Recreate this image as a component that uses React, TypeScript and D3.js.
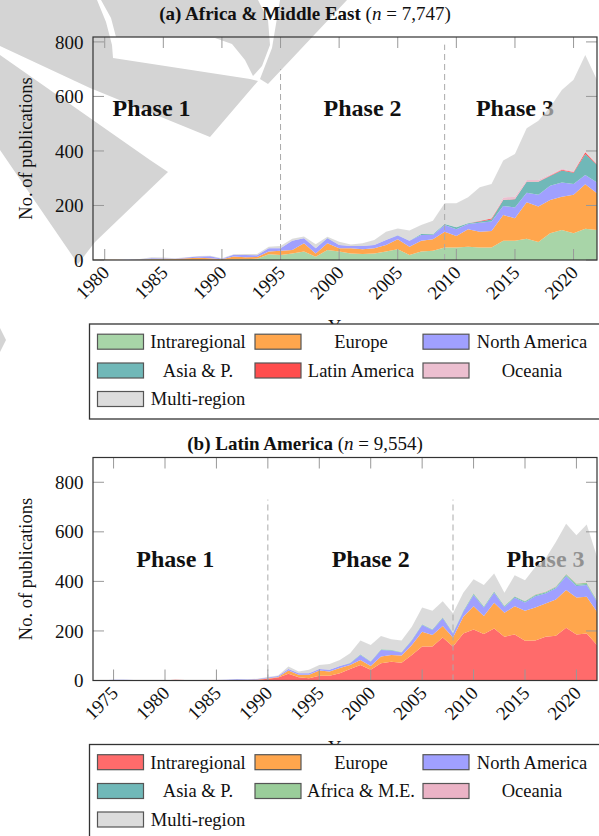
import * as d3 from "d3";

const FONT = "'Liberation Serif', 'Times New Roman', Times, serif";

// ---------- (a) Africa & Middle East, 1979-2022 ----------
const yearsA = d3.range(1979, 2023);
const intraA = [0,0,0,0,1,2,2,1,1,1,1,1,3,3,5, 21,18,24,31,12,37,31,24,22,24,31,39,18,31,34, 46,46,49,46,46,71,71,78,66,98,110,98,115,110];
const europeA = [1,1,1,0,1,2,3,3,5,7,5,2,10,7,6, 10,16,13,30,12,24,12,19,17,19,24,37,31,40,42, 58,42,64,58,60,94,82,134,130,122,122,141,163,135];
const naA = [0,0,0,1,1,2,1,1,3,5,8,2,6,8,6, 12,9,34,19,19,19,12,8,12,12,18,14,22,21,16, 24,25,19,33,35,33,40,35,43,52,52,40,34,39];
const asiaA = [0,0,0,0,0,0,0,0,0,0,0,0,0,0,0, 0,0,0,0,0,1,0,0,0,0,0,1,0,3,2, 4,7,3,4,8,22,30,40,48,36,44,41,77,65];
const latamA = [0,0,0,0,0,0,0,0,0,0,0,0,0,0,0, 0,0,0,0,0,0,0,0,0,0,0,0,0,0,0, 0,0,0,2,3,1,1,1,1,2,3,3,6,2];
const oceaniaA = [0,0,0,0,0,0,0,0,0,0,0,0,0,0,0, 0,0,0,0,0,0,0,0,0,0,0,0,0,0,0, 0,0,0,0,0,8,8,5,5,4,4,3,3,3];
const multiA = [0,1,0,0,1,4,3,1,1,2,2,1,2,4,5, 6,8,7,6,15,4,12,6,10,18,31,25,37,33,50, 76,88,95,124,127,136,157,190,218,246,289,335,354,306];
const labelsA = ["Intraregional", "Europe", "North America", "Asia & P.", "Latin America", "Oceania", "Multi-region"];
const colorsA = ["#a8d5a8", "#ffa64d", "#a0a0ff", "#70b8b8", "#ff4d4d", "#ecbfd0", "#dcdcdc"];
const ticksA = [1980, 1985, 1990, 1995, 2000, 2005, 2010, 2015, 2020];
const phaseYearsA = [1984, 2002, 2015];
const dashYearsA = [1995, 2009];
const dashTopsA = [700, 790];

// ---------- (b) Latin America, 1973-2022 ----------
const yearsB = d3.range(1973, 2023);
const intraB = [0,0,1,1,1,1,1,1,3,2,1,1,1,2,2,2,3,7,12,27,13, 9,19,19,29,46,63,43,70,76,72,103,137,137,174,137,190,206,188,210,177,186,160,161,177,181,213,186,190,143];
const europeB = [0,0,0,0,0,0,0,0,0,0,0,0,0,0,0,0,1,2,2,13,10, 14,21,17,21,17,20,16,27,27,29,40,60,47,46,37,67,94,72,104,96,114,121,134,134,146,152,149,148,134];
const naB = [0,1,2,2,1,0,0,0,0,0,0,1,1,1,3,2,2,3,4,6,6, 6,6,7,9,7,20,17,26,18,12,18,27,20,31,16,20,45,35,40,24,34,34,45,40,45,56,46,47,41];
const asiaB = [0,0,0,0,0,0,0,0,0,0,0,0,0,0,0,0,0,0,0,0,0, 0,0,0,0,1,2,1,2,2,1,2,2,2,3,2,3,4,3,4,3,4,4,4,4,4,5,5,4,3];
const africaB = [0,0,0,0,0,0,0,0,0,0,0,0,0,0,0,0,0,0,0,0,0, 0,0,0,0,1,1,1,1,1,1,1,1,1,1,1,2,3,2,2,2,2,2,3,3,3,4,5,6,3];
const oceaniaB = [0,0,0,0,0,0,0,0,0,0,0,0,0,0,0,0,0,0,0,0,0, 0,0,0,0,0,0,0,0,0,0,0,0,0,1,0,0,1,0,1,0,1,1,2,2,2,2,2,2,1];
const multiB = [0,0,0,0,0,0,0,0,0,0,0,0,0,0,1,1,1,2,2,10,7, 14,17,24,24,38,55,65,54,42,46,53,68,74,64,78,72,56,85,71,52,84,83,109,132,178,201,193,233,174];
const labelsB = ["Intraregional", "Europe", "North America", "Asia & P.", "Africa & M.E.", "Oceania", "Multi-region"];
const colorsB = ["#ff6b6b", "#ffa64d", "#a0a0ff", "#70b8b8", "#9acd9a", "#ebb3c6", "#dcdcdc"];
const ticksB = [1975, 1980, 1985, 1990, 1995, 2000, 2005, 2010, 2015, 2020];
const phaseYearsB = [1981, 2000, 2017];
const dashYearsB = [1990, 2008];
const dashTopsB = [730, 730];

const yTicks = [0, 200, 400, 600, 800];
const phaseNames = ["Phase 1", "Phase 2", "Phase 3"];

// background watermark shapes (light grey)
const watermark = [
  [[0,0],[97,0],[106,22],[112,45],[113,58],[250,79],[258,81],[210,137],[90,88],[0,46]],
  [[101,0],[258,0],[268,20],[270,45],[262,66],[253,76],[245,60],[232,44],[215,38],[116,37],[111,18]],
  [[280,0],[347,0],[268,84],[260,79],[272,48]],
  [[0,55],[150,160],[168,172],[95,242],[78,264],[0,150]],
  [[0,328],[6,340],[0,352]],
];

type PanelProps = {
  oy: number;
  titleY: number;
  title: string;
  n: string;
  years: number[];
  series: number[][];
  labels: string[];
  colors: string[];
  yMax: number;
  xTicks: number[];
  phaseYears: number[];
  phaseValue: number;
  dashYears: number[];
  dashTops: number[];
};

function Panel(p: PanelProps) {
  const left = 93, right = 597;
  const top = p.oy + 37, bottom = p.oy + 260;
  const x = d3.scaleLinear().domain([p.years[0], p.years[p.years.length - 1]]).range([left, right]);
  const y = d3.scaleLinear().domain([0, p.yMax]).range([bottom, top]);

  const rows = p.years.map((_, i) => p.series.map(s => s[i]));
  const stacked = d3.stack<number[], number>()
    .keys(d3.range(p.series.length))
    .value((r, k) => r[k])(rows);
  const area = d3.area<d3.SeriesPoint<number[]>>()
    .x((d, i) => x(p.years[i]))
    .y0(d => y(d[0]))
    .y1(d => y(d[1]));

  const tickLen = 11;
  const last = p.series.length - 1;

  // legend layout
  const lgTop = p.oy + 324;
  const swX = [97.5, 255, 423];
  const txX = [198, 361, 532];
  const rowY = [341.7, 370.5, 399];

  return (
    <g>
      {/* phase labels sit under the areas */}
      {p.phaseYears.map((yr, i) => (
        <text key={"ph" + i} x={x(yr)} y={y(p.phaseValue)} textAnchor="middle"
              fontFamily={FONT} fontWeight="bold" fontSize={24} fill="#111">
          {phaseNames[i]}
        </text>
      ))}

      {stacked.map((s, i) => (
        <path key={"a" + i} d={area(s) || ""}
              fill={i === last ? "#cbcbcb" : p.colors[i]}
              fillOpacity={i === last ? 0.69 : 1} />
      ))}

      {p.dashYears.map((yr, i) => (
        <line key={"d" + i} x1={x(yr)} x2={x(yr)} y1={y(0)} y2={y(p.dashTops[i])}
              stroke="#aaa" strokeWidth={1} strokeDasharray="6,4" />
      ))}

      {/* ticks inside on all four sides */}
      {p.xTicks.map(t => (
        <g key={"xt" + t} stroke="#999" strokeWidth={1}>
          <line x1={x(t)} x2={x(t)} y1={bottom} y2={bottom - tickLen} />
          <line x1={x(t)} x2={x(t)} y1={top} y2={top + tickLen} />
        </g>
      ))}
      {yTicks.map(t => (
        <g key={"yt" + t} stroke="#999" strokeWidth={1}>
          <line x1={left} x2={left + tickLen} y1={y(t)} y2={y(t)} />
          <line x1={right} x2={right - tickLen} y1={y(t)} y2={y(t)} />
        </g>
      ))}
      <rect x={left} y={top} width={right - left} height={bottom - top}
            fill="none" stroke="#333" strokeWidth={1.2} />

      {yTicks.map(t => (
        <text key={"yl" + t} x={83.5} y={y(t)} dy="0.35em" textAnchor="end"
              fontFamily={FONT} fontSize={19} fill="#111">{t}</text>
      ))}
      {p.xTicks.map(t => (
        <text key={"xl" + t} transform={`translate(${x(t) + 1},${bottom + 9}) rotate(-45)`}
              dy="0.35em" textAnchor="end" fontFamily={FONT} fontSize={19} fill="#111">{t}</text>
      ))}

      <text x={305} y={p.titleY} textAnchor="middle" fontFamily={FONT} fontSize={19} fill="#111">
        <tspan fontWeight="bold">{p.title}</tspan>
        <tspan> (</tspan>
        <tspan fontStyle="italic">n</tspan>
        <tspan> = {p.n})</tspan>
      </text>

      <text transform={`translate(26,${(top + bottom) / 2}) rotate(-90)`} textAnchor="middle"
            dy="0.35em" fontFamily={FONT} fontSize={18.5} fill="#111">No. of publications</text>

      {/* x-axis title, mostly hidden behind the legend as in the source figure */}
      <text x={345} y={p.oy + 333} textAnchor="middle" fontFamily={FONT} fontSize={18.5} fill="#111">Year</text>

      {/* legend */}
      <rect x={89.5} y={lgTop} width={560} height={95} fill="#fff" stroke="#333" strokeWidth={1.3} />
      {p.labels.map((lab, i) => {
        const c = i % 3, r = Math.floor(i / 3);
        const cy = p.oy + rowY[r];
        return (
          <g key={"lg" + i}>
            <rect x={swX[c]} y={cy - 7.5} width={46} height={15} fill={p.colors[i]}
                  stroke="#555" strokeWidth={1.2} />
            <text x={txX[c]} y={cy} dy="0.35em" textAnchor="middle"
                  fontFamily={FONT} fontSize={18.5} fill="#111">{lab}</text>
          </g>
        );
      })}
    </g>
  );
}

export default function App() {
  return (
    <svg width={599} height={836} viewBox="0 0 599 836"
         style={{position: "absolute", left: 0, top: 0, background: "#fff"}}>
      <rect x={0} y={0} width={599} height={836} fill="#fff" />
      {watermark.map((pts, i) => (
        <polygon key={"w" + i} points={pts.map(q => q.join(",")).join(" ")} fill="#d4d4d4" />
      ))}
      <Panel oy={0} titleY={20} title="(a) Africa & Middle East" n="7,747"
             years={yearsA}
             series={[intraA, europeA, naA, asiaA, latamA, oceaniaA, multiA]}
             labels={labelsA} colors={colorsA} yMax={818} xTicks={ticksA}
             phaseYears={phaseYearsA} phaseValue={528}
             dashYears={dashYearsA} dashTops={dashTopsA} />
      <Panel oy={420.5} titleY={450} title="(b) Latin America" n="9,554"
             years={yearsB}
             series={[intraB, europeB, naB, asiaB, africaB, oceaniaB, multiB]}
             labels={labelsB} colors={colorsB} yMax={900} xTicks={ticksB}
             phaseYears={phaseYearsB} phaseValue={458}
             dashYears={dashYearsB} dashTops={dashTopsB} />
    </svg>
  );
}
